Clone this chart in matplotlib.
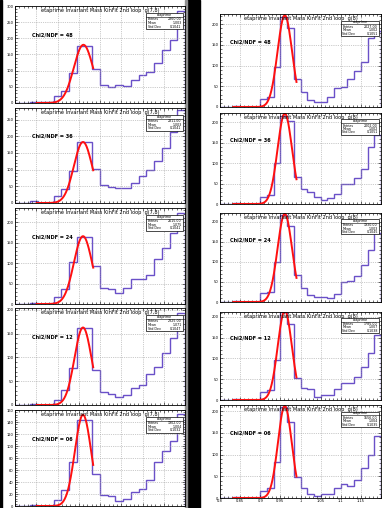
import matplotlib
matplotlib.use("Agg")
import matplotlib.pyplot as plt
import numpy as np
from matplotlib.ticker import MultipleLocator, AutoMinorLocator, FuncFormatter

W, H = 383, 508

# -------------------------
# data
# -------------------------
chi2_labels = ["48", "36", "24", "12", "06"]

left_title = "etaprime Invariant Mass KinFit 2nd loop  g(7,8)"
right_title = "etaprime Invariant Mass KinFit 2nd loop  g(8)"

# left column: 22 bins 0.80 - 1.20
left_edges = np.linspace(0.80, 1.20, 23)
left_p1 = [0, 0, 4, 2, 3, 22, 38, 92, 175, 175, 105, 55, 50, 56, 52, 72, 88, 97, 125, 165, 195, 285]
left_p2 = [0, 0, 5, 0, 0, 20, 41, 95, 182, 182, 102, 54, 47, 46, 46, 61, 80, 98, 125, 166, 212, 278]
left_p3 = [0, 0, 3, 0, 0, 18, 36, 104, 164, 164, 94, 39, 37, 26, 40, 61, 61, 72, 110, 137, 175, 223]
left_p4 = [0, 0, 2, 0, 0, 11, 32, 77, 162, 162, 73, 28, 24, 16, 22, 35, 42, 65, 79, 110, 140, 194]
left_p5 = [0, 0, 1, 0, 0, 10, 27, 74, 144, 144, 53, 18, 16, 8, 12, 24, 28, 43, 74, 91, 109, 154]
left_hists = [left_p1, left_p2, left_p3, left_p4, left_p5]
left_ymax = [300, 285, 235, 204, 160]
left_ystep = [50, 50, 50, 50, 20]
# gaussian fit: amplitude, mean, sigma
left_amp = [180, 183, 166, 163, 152]
left_mean = [0.961, 0.960, 0.960, 0.960, 0.960]
left_sigma = [0.0227, 0.0215, 0.0215, 0.020, 0.019]
left_fit_range = (0.851, 0.984)
left_entries = ["2860.00", "2811.00", "2615.00", "2325.00", "1902.00"]
left_mean_txt = ["1.003", "1.003", "1.075", "1.071", "1.004"]
left_std_txt = ["0.1041", "0.1041", "0.1041", "0.1047", "0.1032"]

# right column: 24 bins 0.80 - 1.20
right_edges = np.linspace(0.80, 1.20, 25)
right_p1 = [0, 0, 2, 0, 0, 1, 19, 23, 96, 218, 190, 67, 37, 16, 11, 11, 23, 46, 49, 67, 86, 108, 167, 185]
right_p2 = [0, 0, 2, 0, 0, 1, 18, 22, 100, 215, 203, 66, 36, 30, 16, 11, 15, 25, 48, 50, 64, 85, 140, 168]
right_p3 = [0, 0, 2, 0, 0, 1, 22, 25, 100, 217, 189, 67, 36, 17, 12, 12, 11, 21, 50, 52, 64, 92, 130, 173]
right_p4 = [0, 0, 2, 0, 0, 1, 20, 24, 96, 212, 184, 52, 30, 26, 8, 12, 12, 26, 40, 40, 56, 80, 113, 156]
right_p5 = [0, 0, 2, 0, 0, 1, 16, 22, 83, 210, 175, 48, 22, 10, 4, 10, 10, 22, 32, 27, 41, 68, 100, 142]
right_hists = [right_p1, right_p2, right_p3, right_p4, right_p5]
right_ymax = [225, 223, 222, 212, 214]
right_amp = [222, 222, 220, 215, 212]
right_mean = [0.961, 0.961, 0.961, 0.961, 0.961]
right_sigma = [0.018, 0.018, 0.018, 0.0175, 0.017]
right_fit_range = (0.833, 0.990)
right_entries = ["2027.00", "2002.00", "1930.00", "1785.00", "1556.00"]
right_mean_txt = ["1.002", "1.002", "1.003", "1.007", "1.004"]
right_std_txt = ["0.1051", "0.1051", "0.1045", "0.1038", "0.1035"]

# frame positions in pixels (left, right, top, bottom)
left_frames = [(15, 185, 6, 103), (15, 185, 108, 203), (15, 185, 208, 304),
               (15, 185, 308, 405), (15, 185, 410, 506)]
right_frames = [(220, 381, 14, 107), (220, 381, 113, 204), (220, 381, 213, 302),
                (220, 381, 312, 400), (220, 381, 405, 498)]

hist_color = "#6a50c8"
fit_color = "#ff1010"

plt.rcParams["font.family"] = "DejaVu Sans"

fig = plt.figure(figsize=(W / 100, H / 100), dpi=100)
fig.patch.set_facecolor("white")

# black strips of the collage
bg = fig.add_axes([0, 0, 1, 1])
bg.set_xlim(0, W)
bg.set_ylim(H, 0)
bg.axis("off")
bg.add_patch(plt.Rectangle((0, 0), 2, H, color="black"))
bg.add_patch(plt.Rectangle((187, 0), 13, H, color="black"))
bg.add_patch(plt.Rectangle((185, 0), 2, H, color="#909090"))


def px_axes(frame):
    l, r, t, b = frame
    return fig.add_axes([l / W, 1 - b / H, (r - l) / W, (b - t) / H])


def xfmt(v, pos):
    if v > 1.19:
        return ""
    return f"{v:g}"


def draw_panel(frame, edges, vals, ymax, ystep, amp, mu, sig, frange,
               title, chi2, entries, mean_txt, std_txt, box_w, chi_x, show_x):
    ax = px_axes(frame)
    ax.stairs(vals, edges, color=hist_color, lw=1.0)
    xf = np.linspace(frange[0], frange[1], 200)
    ax.plot(xf, amp * np.exp(-0.5 * ((xf - mu) / sig) ** 2), color=fit_color, lw=1.4)
    ax.set_xlim(edges[0], edges[-1])
    ax.set_ylim(0, ymax)
    ax.xaxis.set_major_locator(MultipleLocator(0.05))
    ax.xaxis.set_minor_locator(AutoMinorLocator(5))
    ax.xaxis.set_major_formatter(FuncFormatter(xfmt))
    ax.yaxis.set_major_locator(MultipleLocator(ystep))
    ax.yaxis.set_minor_locator(AutoMinorLocator(5))
    ax.grid(True, which="major", color="#9a9a9a", ls=":", lw=0.5)
    ax.tick_params(which="both", direction="in", top=True, right=True,
                   labelsize=2.6, pad=1, width=0.4)
    ax.tick_params(which="major", length=2.5)
    ax.tick_params(which="minor", length=1.2)
    if not show_x:
        ax.tick_params(axis="x", labelbottom=False)
    for s in ax.spines.values():
        s.set_linewidth(0.6)
    ax.text(0.5, 0.975, title, transform=ax.transAxes, ha="center", va="top",
            fontsize=3.6)
    ax.text(chi_x, 0.70, "Chi2/NDF = " + chi2, transform=ax.transAxes,
            ha="left", va="center", fontsize=3.6, fontweight="bold")
    # stat box
    bx0, by1 = 1 - box_w - 0.01, 0.93
    bh = 0.17
    ax.add_patch(plt.Rectangle((bx0, by1 - bh), box_w, bh, transform=ax.transAxes,
                               facecolor="white", edgecolor="black", lw=0.5, zorder=5))
    ax.plot([bx0, bx0 + box_w], [by1 - bh * 0.25] * 2, transform=ax.transAxes,
            color="black", lw=0.4, zorder=6)
    ax.text(bx0 + box_w / 2, by1 - bh * 0.12, "etaprime", transform=ax.transAxes,
            ha="center", va="center", fontsize=2.4, zorder=7)
    rows = [("Entries", entries), ("Mean", mean_txt), ("Std Dev", std_txt)]
    for i, (k, v) in enumerate(rows):
        yy = by1 - bh * (0.40 + 0.22 * i)
        ax.text(bx0 + 0.01, yy, k, transform=ax.transAxes, ha="left",
                va="center", fontsize=2.3, zorder=7)
        ax.text(bx0 + box_w - 0.01, yy, v, transform=ax.transAxes, ha="right",
                va="center", fontsize=2.3, zorder=7)
    return ax


for i in range(5):
    draw_panel(left_frames[i], left_edges, left_hists[i], left_ymax[i], left_ystep[i],
               left_amp[i], left_mean[i], left_sigma[i], left_fit_range,
               left_title, chi2_labels[i], left_entries[i], left_mean_txt[i],
               left_std_txt[i], 0.22, 0.10, False)

for i in range(5):
    draw_panel(right_frames[i], right_edges, right_hists[i], right_ymax[i], 50,
               right_amp[i], right_mean[i], right_sigma[i], right_fit_range,
               right_title, chi2_labels[i], right_entries[i], right_mean_txt[i],
               right_std_txt[i], 0.24, 0.06, i == 4)

fig.savefig("out.png", dpi=100)
